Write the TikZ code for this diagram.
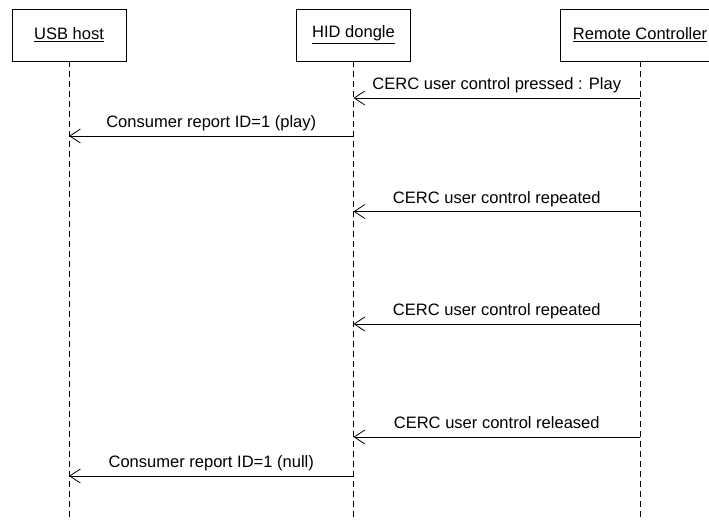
\documentclass[tikz,border=0pt]{standalone}
\usepackage{fontspec}
\setmainfont{Liberation Sans}
\usetikzlibrary{arrows.meta}
\begin{document}
\begin{tikzpicture}[x=0.75pt,y=-0.75pt,
  every node/.style={font=\fontsize{12.4}{14}\selectfont},
  actor/.style={draw,line width=0.6pt,minimum height=39pt,inner sep=0pt},
  lifeline/.style={line width=0.6pt,dash pattern=on 4.5pt off 3pt},
  msg/.style={line width=0.6pt,-{Straight Barb[length=8pt,width=10.5pt,line width=0.6pt]}},
  msglabel/.style={anchor=base,inner sep=0pt,yshift=6.2pt}]
\useasboundingbox (0,0) rectangle (709,519);
\begin{scope}
\clip (0,0) rectangle (709,519);
% participants
\node[actor,minimum width=85.5pt] (usb) at (69,35) {\underline{USB host}};
\node[actor,minimum width=85pt] (hid) at (353.5,35) {\underline{HID dongle}};
\node[actor,minimum width=119pt] (rc) at (640,35) {\underline{Remote Controller}};
% lifeline ends
\coordinate (usbend) at (usb.south |- 0,519);
\coordinate (hidend) at (hid.south |- 0,519);
\coordinate (rcend) at (rc.south |- 0,519);
\draw[lifeline] (usb.south) -- (usbend);
\draw[lifeline] (hid.south) -- (hidend);
\draw[lifeline] (rc.south) -- (rcend);
% message anchor points on lifelines
\foreach \n/\y in {1/98,2/136,3/211.5,4/324,5/437,6/476}{
  \coordinate (u\n) at (usb.south |- 0,\y);
  \coordinate (h\n) at (hid.south |- 0,\y);
  \coordinate (r\n) at (rc.south |- 0,\y);
}
% messages
\draw[msg] (r1) -- node[msglabel] {CERC user control pressed : Play} (h1);
\draw[msg] (h2) -- node[msglabel] {Consumer report ID=1 (play)} (u2);
\draw[msg] (r3) -- node[msglabel] {CERC user control repeated} (h3);
\draw[msg] (r4) -- node[msglabel] {CERC user control repeated} (h4);
\draw[msg] (r5) -- node[msglabel] {CERC user control released} (h5);
\draw[msg] (h6) -- node[msglabel] {Consumer report ID=1 (null)} (u6);
\end{scope}
\end{tikzpicture}
\end{document}
